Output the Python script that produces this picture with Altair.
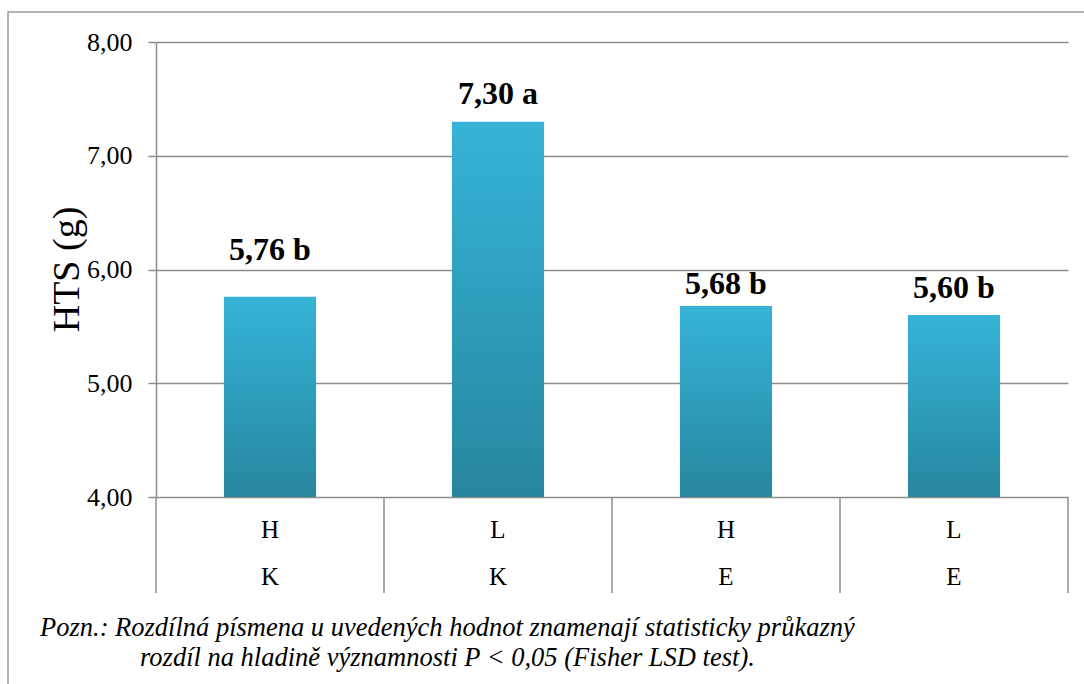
import altair as alt
import pandas as pd

# ---- data ----
treatments = ["H", "L", "H", "L"]
sites = ["K", "K", "E", "E"]
hts = [5.76, 7.30, 5.68, 5.60]
letters = ["b", "a", "b", "b"]
y_ticks = [4, 5, 6, 7, 8]
y_title = "HTS (g)"
footnote = [
    "Pozn.: Rozdílná písmena u uvedených hodnot znamenají statisticky průkazný",
    "rozdíl na hladině významnosti P < 0,05 (Fisher LSD test).",
]

# ---- styling ----
W, H = 912, 455
FONT = "Liberation Serif"
GRID = "#8c8c8c"
label_dy = [-37, -18, -12, -17]  # manual label placement as in the original

df = pd.DataFrame({"idx": list(range(len(hts))), "treat": treatments, "site": sites,
                   "hts": hts, "letter": letters})

xs = alt.Scale(domain=[0, len(hts)], nice=False, zero=False)
ys = alt.Scale(domain=[min(y_ticks), max(y_ticks)], nice=False, zero=False)

base = alt.Chart(df).transform_calculate(
    x_lo="datum.idx + 0.298",
    x_hi="datum.idx + 0.702",
    x_mid="datum.idx + 0.5",
    label="replace(format(datum.hts, '.2f'), '.', ',') + ' ' + datum.letter",
)

grad = alt.Gradient(
    gradient="linear",
    stops=[alt.GradientStop(color="#36B3D7", offset=0),
           alt.GradientStop(color="#2E9DBC", offset=0.5),
           alt.GradientStop(color="#27869D", offset=1)],
    x1=0, x2=0, y1=0, y2=1,
)

yaxis = alt.Axis(
    values=y_ticks, title=None, grid=True, gridColor=GRID, gridWidth=1.5,
    domainColor=GRID, domainWidth=1.5, tickColor=GRID, tickWidth=1.5, tickSize=8,
    labelFont=FONT, labelFontSize=26, labelColor="black", labelPadding=16,
    labelExpr="replace(format(datum.value, '.2f'), '.', ',')",
)

bars = base.mark_rect(color=grad).encode(
    x=alt.X("x_lo:Q", scale=xs, axis=None),
    x2="x_hi:Q",
    y=alt.Y("hts:Q", scale=ys, axis=yaxis),
    y2=alt.datum(4),
)

value_labels = []
for i, dy in enumerate(label_dy):
    value_labels.append(
        base.transform_filter(f"datum.idx == {i}").mark_text(
            font=FONT, fontSize=32, fontWeight="bold", color="black",
            baseline="alphabetic", align="center", dy=dy,
        ).encode(
            x=alt.X("x_mid:Q", scale=xs),
            y=alt.Y("hts:Q", scale=ys),
            text="label:N",
        )
    )

bounds = pd.DataFrame({"b": list(range(len(hts) + 1))})
separators = alt.Chart(bounds).mark_rule(color=GRID, strokeWidth=1.5).encode(
    x=alt.X("b:Q", scale=xs),
    y=alt.value(H),
    y2=alt.value(H + 96),
)

cat1 = base.mark_text(font=FONT, fontSize=25, color="black", baseline="alphabetic").encode(
    x=alt.X("x_mid:Q", scale=xs), y=alt.value(496), text="treat:N")
cat2 = base.mark_text(font=FONT, fontSize=25, color="black", baseline="alphabetic").encode(
    x=alt.X("x_mid:Q", scale=xs), y=alt.value(543), text="site:N")

title = alt.Chart(pd.DataFrame({"t": [y_title]})).mark_text(
    font=FONT, fontSize=38, angle=270, baseline="alphabetic", align="center", color="black"
).encode(x=alt.value(79 - 156), y=alt.value(227.5), text="t:N")

foot1 = alt.Chart(pd.DataFrame({"t": [footnote[0]]})).mark_text(
    font=FONT, fontSize=26.5, fontStyle="italic", align="left", baseline="alphabetic", color="black"
).encode(x=alt.value(40 - 156), y=alt.value(636 - 42), text="t:N")
foot2 = alt.Chart(pd.DataFrame({"t": [footnote[1]]})).mark_text(
    font=FONT, fontSize=26.5, fontStyle="italic", align="left", baseline="alphabetic", color="black"
).encode(x=alt.value(140 - 156), y=alt.value(666 - 42), text="t:N")

border = alt.Chart(pd.DataFrame({"t": [0]})).mark_rect(
    fill="transparent", stroke="#9a9a9a", strokeWidth=1.5
).encode(x=alt.value(8 - 156), y=alt.value(12 - 42), x2=alt.value(1300), y2=alt.value(900))

chart = alt.layer(
    border, bars, *value_labels, separators, cat1, cat2, title, foot1, foot2
).properties(
    width=W, height=H, autosize="none",
    padding={"left": 156, "top": 42, "right": 16, "bottom": 187},
).configure_view(stroke=None)

chart.save("out.html", embed_options={"renderer": "svg", "actions": False})
